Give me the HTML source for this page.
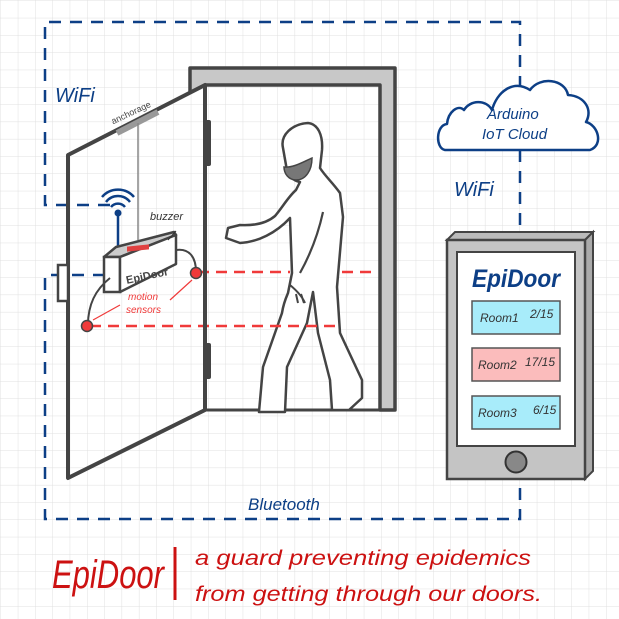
<!DOCTYPE html>
<html><head><meta charset="utf-8"><style>
html,body{margin:0;padding:0;background:#fff}
svg{display:block}
text{font-family:"Liberation Sans",sans-serif}
</style></head><body>
<svg width="619" height="619" viewBox="0 0 619 619" xmlns="http://www.w3.org/2000/svg">
<defs>
<pattern id="g" width="17.3" height="17.3" patternUnits="userSpaceOnUse" x="1" y="1">
<path d="M17.3 0V17.3H0" fill="none" stroke="#e0e0e0" stroke-width="1"/>
</pattern>
</defs>
<rect width="619" height="619" fill="#fff"/>
<rect width="619" height="619" fill="url(#g)"/>

<g fill="none" stroke="#0d3f86" stroke-width="2.5" stroke-dasharray="12,9">
<path d="M110 205H45V22H520V92"/>
<path d="M520 150V232"/>
<path d="M105 275H45V519H520V480"/>
</g>

<path d="M190 93 V68 H395 V410 H380 V85 H205" fill="#c8c8c8" stroke="#444" stroke-width="3.5" stroke-linejoin="round"/>
<line x1="205" y1="410" x2="380" y2="410" stroke="#444" stroke-width="3"/>

<path d="M308 123 C292 124 280 135 283 148 L286 165 C287 176 294 181 300 182 L296 190 C288 197 282 208 275 216 C268 222 258 226 240 225 L228 228 L226 238 L240 243 C258 242 276 233 290 218 L292 273 L288 293 C285 300 283 306 282 313 L263 367 L259 412 L285 412 L287 367 L307 323 L313 292 L318 333 L330 380 L332 410 L349 410 L362 398 L362 380 L340 333 L337 287 L343 217 L340 193 C333 183 325 176 320 168 L322 150 C323 135 318 124 308 123Z" fill="#fff" stroke="#444" stroke-width="2.5" stroke-linejoin="round"/>
<path d="M284 167 C293 168 303 162 312 158 C312 170 306 180 296 180 C289 180 284 174 284 167Z" fill="#777" stroke="#444" stroke-width="1.5"/>
<path d="M323 212 C318 235 310 255 300 273" fill="none" stroke="#444" stroke-width="2.2"/>
<path d="M290 285 C296 290 302 296 305 303 M296 294 L298 303 M301 294 L304 303" fill="none" stroke="#444" stroke-width="2"/>

<g stroke="#f03a3a" stroke-width="2.5" stroke-dasharray="11,7">
<line x1="198" y1="272" x2="290" y2="272"/>
<line x1="342" y1="272" x2="378" y2="272"/>
<line x1="90" y1="326" x2="338" y2="326"/>
</g>

<path d="M68 155 L205 85 V410 L68 478Z" fill="none" stroke="#444" stroke-width="4" stroke-linejoin="round"/>
<rect x="58" y="265" width="10" height="36" fill="#fff" stroke="#444" stroke-width="2.5"/>
<rect x="203" y="120" width="8" height="46" rx="2" fill="#444"/>
<rect x="203" y="343" width="8" height="36" rx="2" fill="#444"/>
<line x1="117" y1="133" x2="158" y2="112" stroke="#999" stroke-width="6"/>
<line x1="138" y1="123" x2="138" y2="240" stroke="#888" stroke-width="1.5"/>
<text x="108" y="118" font-size="9" fill="#444" transform="rotate(-25 125 110)">anchorage</text>

<line x1="118" y1="215" x2="118" y2="250" stroke="#0d3f86" stroke-width="2.5"/>
<circle cx="118" cy="213" r="3.5" fill="#0d3f86"/>
<g fill="none" stroke="#0d3f86" stroke-width="2.5">
<path d="M111 207 A9 9 0 0 1 125 207"/>
<path d="M106 202 A15 15 0 0 1 130 202"/>
<path d="M102 197 A21 21 0 0 1 134 197"/>
</g>

<path d="M104 257 L116 247 L174 232 L176 235 L120 257Z" fill="#ccc" stroke="#444" stroke-width="2.5" stroke-linejoin="round"/>
<path d="M104 257 H120 V292 H104Z" fill="#fff" stroke="#444" stroke-width="2.5"/>
<path d="M120 257 L176 235 V264 L120 292Z" fill="#fff" stroke="#444" stroke-width="2.5" stroke-linejoin="round"/>
<rect x="127" y="260" width="22" height="5" fill="#e04040" transform="skewY(-6)"/>
<text x="126" y="281" font-size="11" font-weight="bold" fill="#444" transform="rotate(-12 140 278)">EpiDoor</text>
<text x="150" y="220" font-size="11" font-style="italic" fill="#333">buzzer</text>
<line x1="176" y1="231" x2="168" y2="240" stroke="#333" stroke-width="1"/>
<path d="M176 250 C190 248 196 258 196 272" fill="none" stroke="#444" stroke-width="2"/>
<path d="M110 278 C95 290 88 305 88 325" fill="none" stroke="#444" stroke-width="2"/>
<circle cx="196" cy="273" r="5.5" fill="#f03a3a" stroke="#444" stroke-width="1.5"/>
<circle cx="87" cy="326" r="5.5" fill="#f03a3a" stroke="#444" stroke-width="1.5"/>
<text x="128" y="300" font-size="10" font-style="italic" fill="#f03a3a">motion</text>
<text x="126" y="313" font-size="10" font-style="italic" fill="#f03a3a">sensors</text>
<line x1="93" y1="320" x2="120" y2="305" stroke="#f03a3a" stroke-width="1.2"/>
<line x1="170" y1="300" x2="192" y2="280" stroke="#f03a3a" stroke-width="1.2"/>

<text x="55" y="102" font-size="20" font-style="italic" fill="#0d3f86">WiFi</text>
<text x="454" y="196" font-size="20" font-style="italic" fill="#0d3f86">WiFi</text>

<path d="M445 150 C435 148 436 125 447 124 C448 112 458 104 464 110 C470 100 486 99 492 110 C497 92 513 79 530 90 C540 76 565 79 568 95 C585 96 593 110 586 122 C598 125 604 145 590 150 Z" fill="#fff" stroke="#0d3f86" stroke-width="2.5" stroke-linejoin="round"/>
<text x="487" y="119" font-size="15" font-style="italic" fill="#0d3f86">Arduino</text>
<text x="482" y="139" font-size="15" font-style="italic" fill="#0d3f86">IoT Cloud</text>

<path d="M447 240 L455 232 H593 L585 240Z" fill="#bbb" stroke="#444" stroke-width="2"/>
<path d="M585 240 L593 232 V471 L585 479Z" fill="#aaa" stroke="#444" stroke-width="2"/>
<rect x="447" y="240" width="138" height="239" fill="#c4c4c4" stroke="#444" stroke-width="2.5"/>
<rect x="457" y="252" width="118" height="194" fill="#fff" stroke="#444" stroke-width="2"/>
<text x="472" y="287" font-size="25" font-style="italic" font-weight="bold" fill="#0d3f86" textLength="88" lengthAdjust="spacingAndGlyphs">EpiDoor</text>
<rect x="472" y="301" width="88" height="33" fill="#a8ecfa" stroke="#555" stroke-width="1.5"/>
<rect x="472" y="348" width="88" height="33" fill="#fbbcbc" stroke="#555" stroke-width="1.5"/>
<rect x="472" y="396" width="88" height="33" fill="#a8ecfa" stroke="#555" stroke-width="1.5"/>
<g font-size="12" font-style="italic" fill="#333">
<text x="480" y="322">Room1</text><text x="530" y="318">2/15</text>
<text x="478" y="369">Room2</text><text x="525" y="366">17/15</text>
<text x="478" y="417">Room3</text><text x="533" y="414">6/15</text>
</g>
<circle cx="516" cy="462" r="10.5" fill="#888" stroke="#333" stroke-width="2"/>

<text x="248" y="510" font-size="17" font-style="italic" fill="#0d3f86">Bluetooth</text>

<text x="52" y="588" font-size="40" font-style="italic" fill="#cc1111" textLength="112" lengthAdjust="spacingAndGlyphs">EpiDoor</text>
<line x1="175" y1="547" x2="175" y2="600" stroke="#cc1111" stroke-width="3"/>
<text x="195" y="565" font-size="21" font-style="italic" fill="#cc1111" textLength="336" lengthAdjust="spacingAndGlyphs">a guard preventing epidemics</text>
<text x="195" y="601" font-size="21" font-style="italic" fill="#cc1111" textLength="347" lengthAdjust="spacingAndGlyphs">from getting through our doors.</text>
</svg>
</body></html>
